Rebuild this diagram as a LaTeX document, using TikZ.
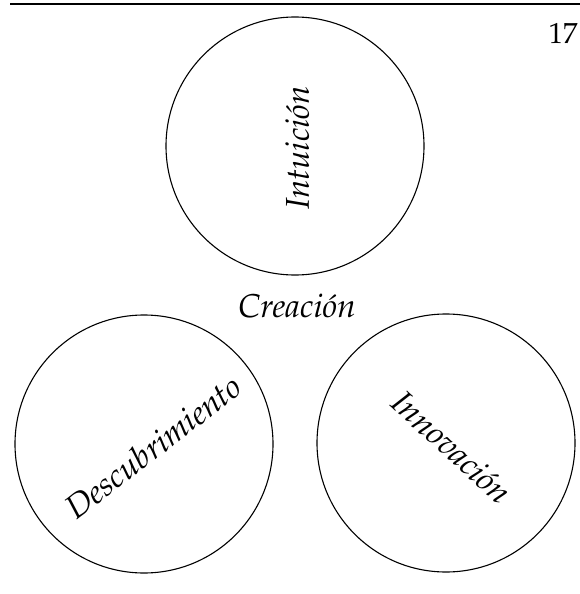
\documentclass[tikz,border=0pt]{standalone}
\usepackage[T1]{fontenc}
\usepackage{mathpazo}
\tikzset{
  ring/.style={draw, line width=1.1pt, circle, minimum size=258pt, inner sep=0pt},
  lbl/.style={font=\fontsize{33}{38}\selectfont\itshape, inner sep=0pt},
  pgnum/.style={font=\fontsize{29}{34}\selectfont, inner sep=0pt}
}
\begin{document}
\begin{tikzpicture}[x=1pt,y=-1pt]
\useasboundingbox (0,0) rectangle (580,594);
\coordinate (ruleL) at (10,4);
\coordinate (ruleR) at (580,4);
\draw[line width=1.6pt] (ruleL) -- (ruleR);
\node[pgnum] (page) at (563,33) {17};
\node[ring] (top) at (295,146) {};
\node[ring] (left) at (144,444) {};
\node[ring] (right) at (446,443) {};
\node[lbl, rotate=90] (intu) at (297,148) {Intuici\'on};
\node[lbl] (crea) at (297,306) {Creaci\'on};
\node[lbl, rotate=37.5] (desc) at (153,447) {Descubrimiento};
\node[lbl, rotate=-42.5] (inno) at (452,447) {Innovaci\'on};
\end{tikzpicture}
\end{document}
